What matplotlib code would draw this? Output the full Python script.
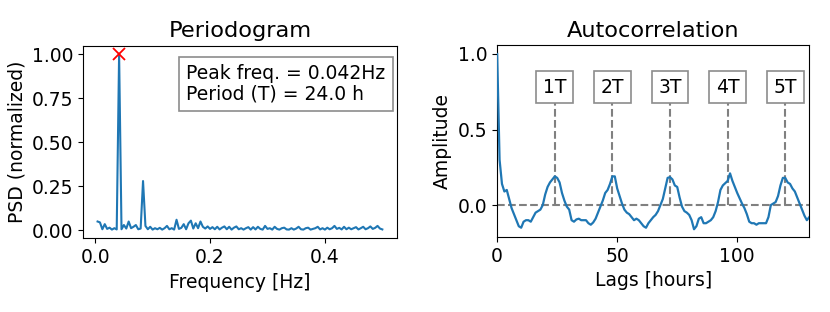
import numpy as np
import matplotlib
matplotlib.use("Agg")
import matplotlib.pyplot as plt

# ---------------- data ----------------
n_hours = 240
psd_bins = list(range(1, 121))
psd_values = [
    0.05, 0.045, 0.006, 0.035, 0.008, 0.015, 0.004, 0.012, 0.005, 1.00,
    0.006, 0.03, 0.01, 0.05, 0.012, 0.02, 0.03, 0.006, 0.01, 0.28,
    0.025, 0.006, 0.02, 0.004, 0.012, 0.006, 0.014, 0.004, 0.012, 0.025,
    0.006, 0.012, 0.004, 0.06, 0.008, 0.014, 0.035, 0.006, 0.04, 0.055,
    0.01, 0.04, 0.012, 0.05, 0.02, 0.01, 0.022, 0.008, 0.018, 0.006,
    0.02, 0.005, 0.015, 0.022, 0.006, 0.02, 0.004, 0.015, 0.022, 0.006,
    0.012, 0.004, 0.012, 0.018, 0.004, 0.018, 0.005, 0.02, 0.008, 0.004,
    0.025, 0.008, 0.012, 0.004, 0.02, 0.008, 0.004, 0.012, 0.015, 0.005,
    0.004, 0.012, 0.004, 0.01, 0.02, 0.006, 0.004, 0.012, 0.015, 0.004,
    0.008, 0.012, 0.02, 0.005, 0.012, 0.004, 0.015, 0.006, 0.012, 0.025,
    0.008, 0.014, 0.005, 0.02, 0.006, 0.015, 0.006, 0.012, 0.018, 0.005,
    0.012, 0.02, 0.006, 0.012, 0.022, 0.008, 0.014, 0.025, 0.01, 0.005,
]
peak_freq = 0.042
peak_period = 24.0

acf_values = [
    1.00, 0.30, 0.14, 0.09, 0.10, 0.04, -0.02, -0.06, -0.10, -0.14,
    -0.15, -0.11, -0.10, -0.10, -0.11, -0.08, -0.05, -0.04, -0.03, 0.00,
    0.07, 0.12, 0.15, 0.17, 0.19, 0.18, 0.15, 0.08, 0.03, -0.01,
    -0.03, -0.10, -0.11, -0.095, -0.09, -0.10, -0.10, -0.10, -0.12, -0.13,
    -0.115, -0.09, -0.05, -0.01, 0.03, 0.08, 0.10, 0.14, 0.19, 0.19,
    0.11, 0.06, 0.01, -0.03, -0.05, -0.06, -0.08, -0.10, -0.09, -0.10,
    -0.12, -0.14, -0.15, -0.12, -0.10, -0.08, -0.065, -0.04, 0.00, 0.04,
    0.11, 0.18, 0.185, 0.17, 0.13, 0.12, 0.05, -0.01, -0.04, -0.05,
    -0.065, -0.10, -0.16, -0.14, -0.09, -0.08, -0.12, -0.12, -0.11, -0.10,
    -0.08, -0.04, 0.02, 0.10, 0.13, 0.145, 0.16, 0.21, 0.16, 0.12,
    0.08, 0.045, 0.01, -0.02, -0.06, -0.11, -0.12, -0.12, -0.13, -0.12,
    -0.12, -0.12, -0.12, -0.08, 0.00, 0.01, 0.02, 0.06, 0.13, 0.18,
    0.18, 0.15, 0.14, 0.11, 0.09, 0.05, 0.01, -0.03, -0.07, -0.10,
    -0.08,
]
period_labels = ["1T", "2T", "3T", "4T", "5T"]
period_multiples = [1, 2, 3, 4, 5]

# ---------------- plot ----------------
plt.rcParams["font.family"] = "DejaVu Sans"
plt.rcParams["font.size"] = 13.5

freqs = np.array(psd_bins) / n_hours
psd = np.array(psd_values)
lags = np.arange(len(acf_values))
acf = np.array(acf_values)

fig = plt.figure(figsize=(8.3, 3.12), dpi=100)
ax1 = fig.add_axes([0.1004, 0.236, 0.3774, 0.618])
ax2 = fig.add_axes([0.599, 0.241, 0.376, 0.615])

blue = "#1f77b4"
ax1.plot(freqs, psd, color=blue, lw=1.5)
ax1.plot([freqs[np.argmax(psd)]], [psd.max()], "x", color="red", ms=8, mew=1.3)
ax1.set_title("Periodogram", fontsize=16.2)
ax1.set_xlabel("Frequency [Hz]")
ax1.set_ylabel("PSD (normalized)")
ax1.set_xticks([0.0, 0.2, 0.4])
ax1.set_yticks([0.0, 0.25, 0.5, 0.75, 1.0])
ax1.text(0.965, 0.902,
         f"Peak freq. = {peak_freq:.3f}Hz\nPeriod (T) = {peak_period:.1f} h",
         transform=ax1.transAxes, ha="right", va="top", multialignment="left",
         fontsize=13.5, linespacing=1.05,
         bbox=dict(boxstyle="square,pad=0.4", facecolor="white",
                   edgecolor="0.55", linewidth=1.2))

ax2.plot(lags, acf, color=blue, lw=1.6, zorder=3)
ax2.axhline(0, color="gray", ls="--", lw=1.5, zorder=2)
for lab, m in zip(period_labels, period_multiples):
    x = m * peak_period
    ax2.plot([x, x], [0, 0.68], color="gray", ls="--", lw=1.5, zorder=2)
    ax2.text(x, 0.78, lab, ha="center", va="center", fontsize=13.5,
             bbox=dict(boxstyle="square,pad=0.35", facecolor="white",
                       edgecolor="0.55", linewidth=1.2))
ax2.set_title("Autocorrelation", fontsize=16.2)
ax2.set_xlabel("Lags [hours]")
ax2.set_ylabel("Amplitude")
ax2.set_xlim(0, 130)
ax2.set_ylim(-0.21, 1.06)
ax2.set_xticks([0, 50, 100])
ax2.set_yticks([0.0, 0.5, 1.0])

fig.savefig("out.png", dpi=100)
